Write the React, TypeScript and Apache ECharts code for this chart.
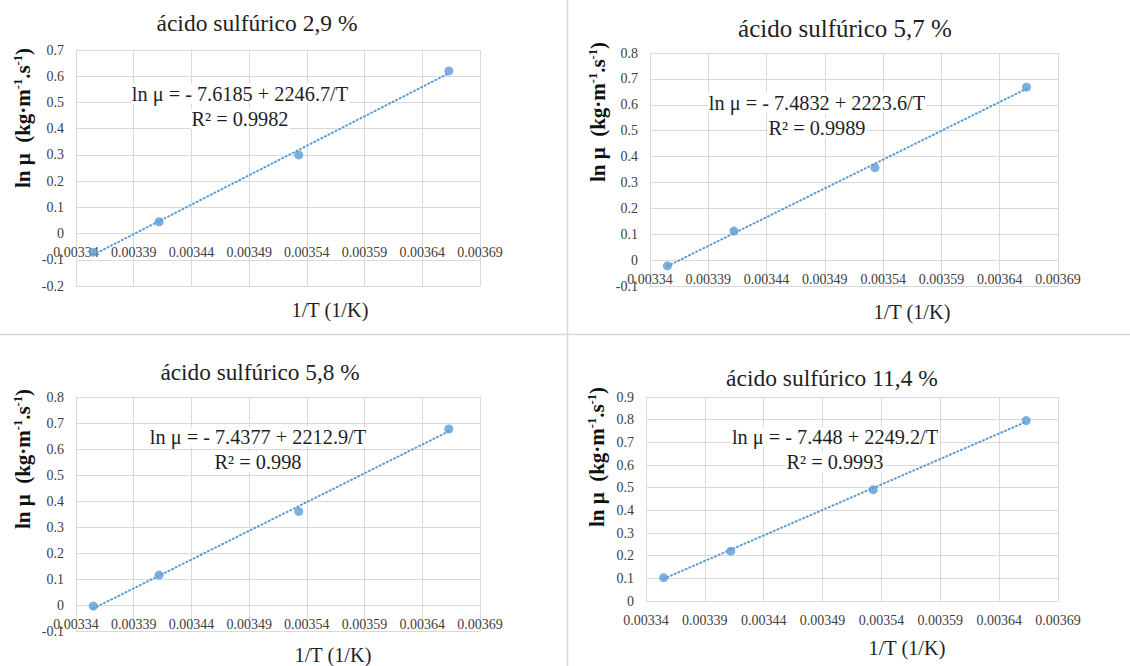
import React, { useEffect, useRef } from "react";
import * as echarts from "echarts";

// ---- data ----
const panelTitles = [
  "ácido sulfúrico 2,9 %",
  "ácido sulfúrico 5,7 %",
  "ácido sulfúrico 5,8 %",
  "ácido sulfúrico 11,4 %",
];
const invT = [0.003355, 0.003412, 0.003533, 0.003663];
const lnMu29 = [-0.071, 0.045, 0.3, 0.62];
const lnMu57 = [-0.022, 0.112, 0.357, 0.668];
const lnMu58 = [-0.004, 0.115, 0.36, 0.677];
const lnMu114 = [0.103, 0.22, 0.491, 0.796];
const seriesValues = [lnMu29, lnMu57, lnMu58, lnMu114];
const intercepts = [-7.6185, -7.4832, -7.4377, -7.448];
const slopes = [2246.7, 2223.6, 2212.9, 2249.2];
const r2Labels = ["0.9982", "0.9989", "0.998", "0.9993"];
const yMins = [-0.2, -0.1, -0.1, 0];
const yMaxs = [0.7, 0.8, 0.8, 0.9];
const yInterval = 0.1;
const xMin = 0.00334;
const xMax = 0.00369;
const xInterval = 0.00005;
const xAxisTitle = "1/T (1/K)";

// ---- layout ----
const FONT = "Liberation Serif";
const BLUE = "#5b9bd5";
const GRID_COLOR = "#d9d9d9";
const grids = [
  { left: 76, top: 50, width: 404, height: 236 },
  { left: 650, top: 53, width: 408, height: 233 },
  { left: 76, top: 397, width: 404, height: 234 },
  { left: 646, top: 397, width: 412, height: 204 },
];
const titleSizes = [23.5, 25, 23.3, 23.5];
const titlePos = [
  [257, 23],
  [845, 28],
  [260, 372],
  [832, 378],
];
const eqPos = [
  [240, 94],
  [817, 103],
  [258, 437],
  [835, 437],
];
const xNamePos = [
  [330, 310],
  [912, 312],
  [333, 655],
  [907, 648],
];
const yNamePos = [
  [23, 118],
  [598, 112],
  [23, 459],
  [597, 457],
];

function buildOption() {
  const xAxes: any[] = [];
  const yAxes: any[] = [];
  const series: any[] = [];
  const graphic: any[] = [];

  grids.forEach((g, i) => {
    // x labels sit just under the y = 0 line, as in the reference
    const zeroOffset = (g.height * (0 - yMins[i])) / (yMaxs[i] - yMins[i]);
    xAxes.push({
      type: "value",
      gridIndex: i,
      min: xMin,
      max: xMax,
      interval: xInterval,
      axisLine: { show: true, onZero: false, lineStyle: { color: GRID_COLOR, width: 1 } },
      axisTick: { show: false },
      splitLine: { show: true, lineStyle: { color: GRID_COLOR, width: 1 } },
      axisLabel: {
        margin: 12 - zeroOffset,
        fontSize: 14,
        fontFamily: FONT,
        color: "#404040",
        formatter: (v: number) => v.toFixed(5),
      },
    });
    yAxes.push({
      type: "value",
      gridIndex: i,
      min: yMins[i],
      max: yMaxs[i],
      interval: yInterval,
      axisLine: { show: true, onZero: false, lineStyle: { color: GRID_COLOR, width: 1 } },
      axisTick: { show: false },
      splitLine: { show: true, lineStyle: { color: GRID_COLOR, width: 1 } },
      axisLabel: {
        margin: 12,
        fontSize: 14,
        fontFamily: FONT,
        color: "#404040",
        formatter: (v: number) => String(+v.toFixed(1)),
      },
    });

    const vals = seriesValues[i];
    const x0 = invT[0];
    const x1 = invT[invT.length - 1];
    series.push({
      type: "line",
      xAxisIndex: i,
      yAxisIndex: i,
      data: [
        [x0, intercepts[i] + slopes[i] * x0],
        [x1, intercepts[i] + slopes[i] * x1],
      ],
      showSymbol: false,
      symbol: "none",
      silent: true,
      lineStyle: { color: BLUE, width: 2, type: [1, 3], cap: "round" },
      z: 3,
    });
    series.push({
      type: "scatter",
      xAxisIndex: i,
      yAxisIndex: i,
      data: invT.map((x, k) => [x, vals[k]]),
      symbol: "circle",
      symbolSize: 9,
      itemStyle: { color: BLUE },
      z: 4,
    });

    graphic.push({
      type: "text",
      x: titlePos[i][0],
      y: titlePos[i][1],
      style: {
        text: panelTitles[i],
        fontSize: titleSizes[i],
        fontFamily: FONT,
        fill: "#1f1f1f",
        align: "center",
        verticalAlign: "middle",
        textAlign: "center",
        textVerticalAlign: "middle",
      },
    });
    const ic = Math.abs(intercepts[i]);
    const eqLines = [`ln μ = - ${ic} + ${slopes[i]}/T`, `R² = ${r2Labels[i]}`];
    eqLines.forEach((t, k) => {
      graphic.push({
        type: "text",
        x: eqPos[i][0],
        y: eqPos[i][1] + k * 25,
        z: 1,
        style: {
          text: t,
          fontSize: 20.3,
          fontFamily: FONT,
          fill: "#1f1f1f",
          backgroundColor: "#ffffff",
          padding: [0, 1, 0, 1],
          align: "center",
          verticalAlign: "middle",
          textAlign: "center",
          textVerticalAlign: "middle",
        },
      });
    });
    graphic.push({
      type: "text",
      x: xNamePos[i][0],
      y: xNamePos[i][1],
      style: {
        text: xAxisTitle,
        fontSize: 20.3,
        fontFamily: FONT,
        fill: "#1f1f1f",
        align: "center",
        verticalAlign: "middle",
        textAlign: "center",
        textVerticalAlign: "middle",
      },
    });
    graphic.push({
      type: "text",
      x: yNamePos[i][0],
      y: yNamePos[i][1],
      rotation: Math.PI / 2,
      style: {
        text: "{a|ln μ  (kg·m}{s|-1}{a|.s}{s|-1}{a|)}",
        rich: {
          a: { fontSize: 21, fontWeight: "bold", fontFamily: FONT, fill: "#111", color: "#111", lineHeight: 24 },
          s: { fontSize: 12.5, fontWeight: "bold", fontFamily: FONT, fill: "#111", color: "#111", verticalAlign: "top", lineHeight: 24 },
        },
        align: "center",
        verticalAlign: "middle",
        textAlign: "center",
        textVerticalAlign: "middle",
      },
    });
  });

  graphic.push({
    type: "line",
    shape: { x1: 567.5, y1: 0, x2: 567.5, y2: 666 },
    style: { stroke: GRID_COLOR, lineWidth: 1.5 },
    silent: true,
  });
  graphic.push({
    type: "line",
    shape: { x1: 0, y1: 334.5, x2: 1130, y2: 334.5 },
    style: { stroke: GRID_COLOR, lineWidth: 1.5 },
    silent: true,
  });

  return {
    animation: false,
    backgroundColor: "#ffffff",
    textStyle: { fontFamily: FONT },
    grid: grids.map((g) => ({ ...g, containLabel: false })),
    xAxis: xAxes,
    yAxis: yAxes,
    series,
    graphic,
  };
}

export default function App() {
  const ref = useRef<HTMLDivElement>(null);
  useEffect(() => {
    if (!ref.current) return;
    const chart = echarts.init(ref.current, null, { renderer: "svg" });
    chart.setOption(buildOption());
    return () => chart.dispose();
  }, []);
  return (
    <div
      ref={ref}
      style={{ position: "fixed", left: 0, top: 0, width: 1130, height: 666, background: "#fff" }}
    />
  );
}
